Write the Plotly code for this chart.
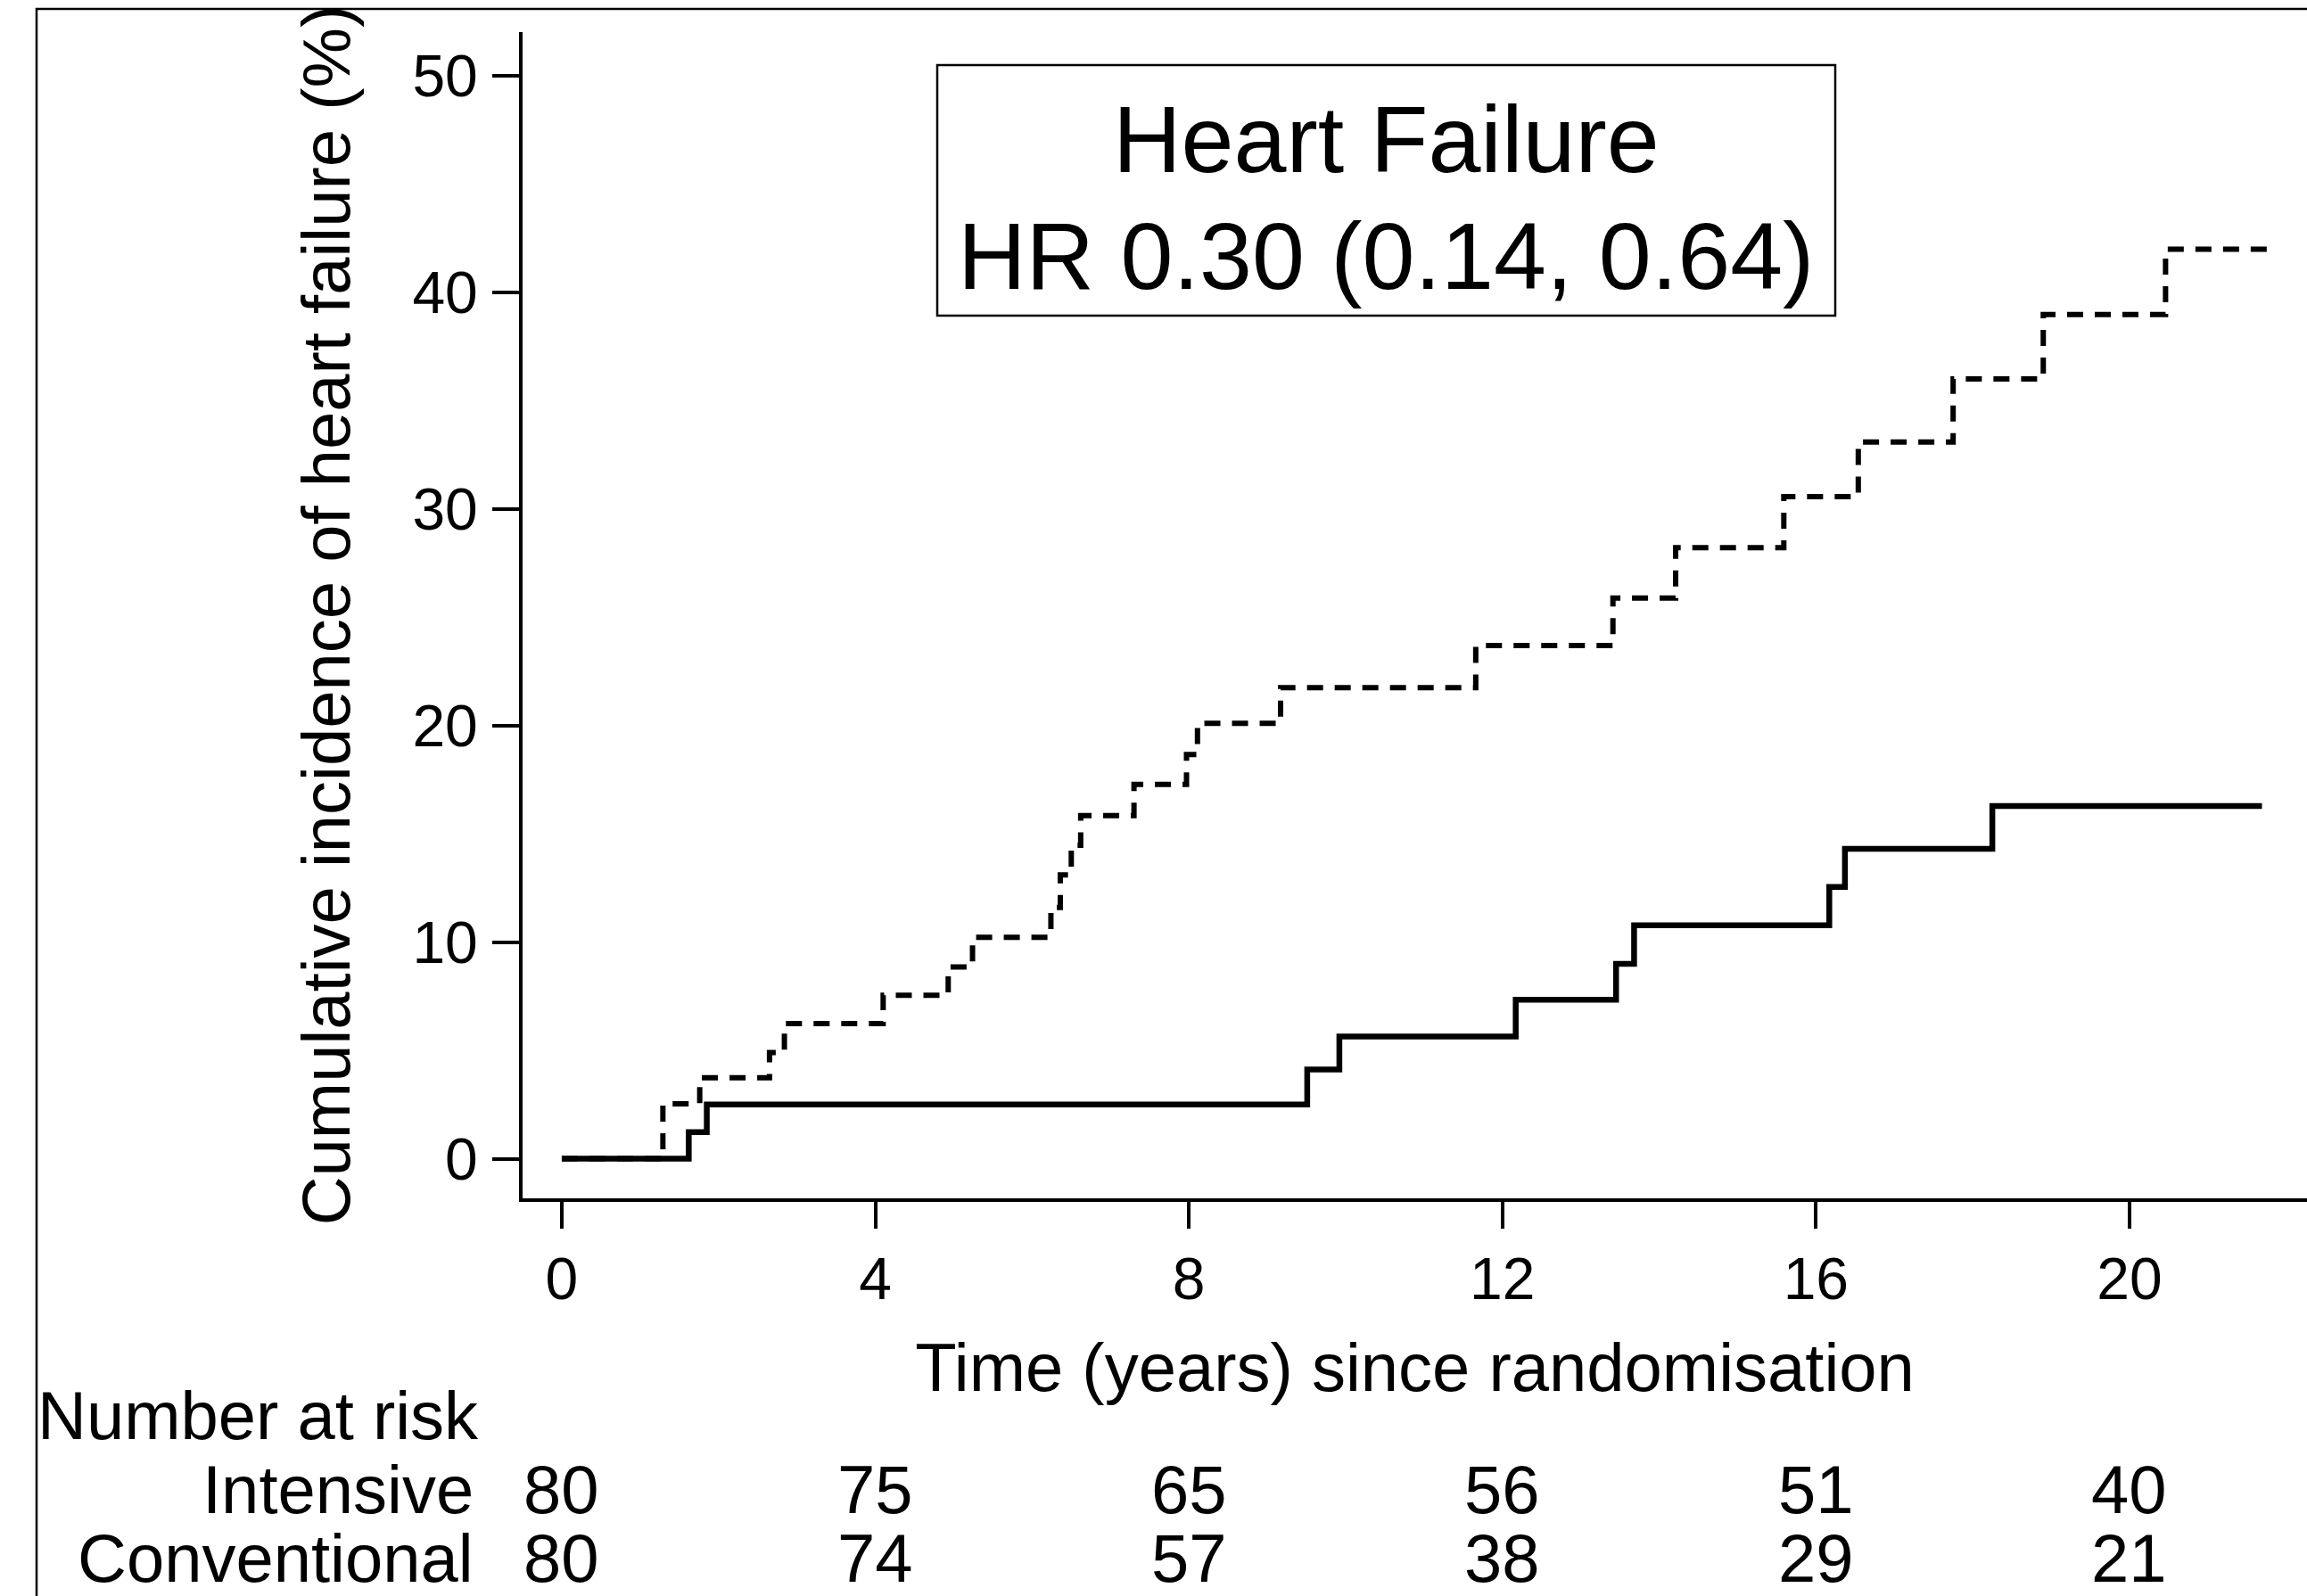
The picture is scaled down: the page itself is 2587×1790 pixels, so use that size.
import plotly.graph_objects as go

# ---- data ----
intensive_t = [0, 1.62, 1.85, 9.51, 9.92, 12.17, 13.45, 13.68, 16.17, 16.37, 18.25, 21.69]
intensive_v = [0, 1.23, 2.50, 4.12, 5.64, 7.34, 9.00, 10.78, 12.55, 14.30, 16.28, 16.28]

conventional_t = [0, 1.29, 1.76, 2.65, 2.84, 4.10, 4.93, 5.24, 6.24, 6.36, 6.50, 6.62,
                  7.30, 7.97, 8.11, 9.17, 11.66, 13.41, 14.21, 15.59, 16.54, 17.75,
                  18.90, 20.46, 21.79]
conventional_v = [0, 2.54, 3.74, 4.90, 6.24, 7.55, 8.85, 10.22, 11.60, 13.10, 14.47, 15.84,
                  17.28, 18.66, 20.10, 21.74, 23.69, 25.88, 28.20, 30.56, 33.08, 35.99,
                  38.97, 41.98, 41.98]

x_ticks = [0, 4, 8, 12, 16, 20]
y_ticks = [0, 10, 20, 30, 40, 50]
risk_groups = ["Intensive", "Conventional"]
risk_intensive = [80, 75, 65, 56, 51, 40]
risk_conventional = [80, 74, 57, 38, 29, 21]

title_lines = ["Heart Failure", "HR 0.30 (0.14, 0.64)"]

# ---- layout geometry (pixels) ----
W, H = 2587, 1790
L, R, T, B = 586, 0, 36, 446
plot_w = W - L - R
plot_h = H - T - B
FONT = "Liberation Sans, Arial, Helvetica, sans-serif"


def px_x(px):
    return (px - L) / plot_w


def px_y(py):
    return (H - B - py) / plot_h


fig = go.Figure()
fig.add_trace(go.Scatter(x=conventional_t, y=conventional_v, mode="lines",
                         line=dict(color="black", width=6, shape="hv", dash="18px,13px"),
                         name="Conventional", showlegend=False))
fig.add_trace(go.Scatter(x=intensive_t, y=intensive_v, mode="lines",
                         line=dict(color="black", width=6.5, shape="hv"),
                         name="Intensive", showlegend=False))

annotations = []
# title box text
annotations.append(dict(text=title_lines[0], x=px_x(1554), y=px_y(156), xref="paper", yref="paper",
                        xanchor="center", yanchor="middle", showarrow=False,
                        font=dict(family=FONT, size=106, color="black")))
annotations.append(dict(text=title_lines[1], x=px_x(1554), y=px_y(287), xref="paper", yref="paper",
                        xanchor="center", yanchor="middle", showarrow=False,
                        font=dict(family=FONT, size=106, color="black")))

# number at risk table
tab_font = dict(family=FONT, size=76, color="black")
annotations.append(dict(text="Number at risk", x=px_x(40), y=px_y(1587), xref="paper", yref="paper",
                        xanchor="left", yanchor="middle", showarrow=False, font=tab_font))
row_y = [1670, 1747]
for name, ry, vals in zip(risk_groups, row_y, [risk_intensive, risk_conventional]):
    annotations.append(dict(text=name, x=px_x(533), y=px_y(ry), xref="paper", yref="paper",
                            xanchor="right", yanchor="middle", showarrow=False, font=tab_font))
    for t, v in zip(x_ticks, vals):
        annotations.append(dict(text=str(v), x=t, y=px_y(ry), xref="x", yref="paper",
                                xanchor="center", yanchor="middle", showarrow=False, font=tab_font))

shapes = [
    # HR box
    dict(type="rect", xref="paper", yref="paper", x0=px_x(1051), x1=px_x(2058),
         y0=px_y(354), y1=px_y(73), line=dict(color="black", width=2.5)),
    # outer frame
    dict(type="rect", xref="paper", yref="paper", x0=px_x(41), x1=px_x(2620),
         y0=px_y(1830), y1=px_y(10), line=dict(color="black", width=2.5)),
]

x_lo = -0.5
x_hi = x_lo + plot_w / 87.9
y_hi = 52.0
y_lo = y_hi - plot_h / 24.3

fig.update_layout(
    width=W, height=H,
    margin=dict(l=L, r=R, t=T, b=B, pad=0),
    paper_bgcolor="white", plot_bgcolor="white",
    font=dict(family=FONT, color="black"),
    annotations=annotations, shapes=shapes,
    xaxis=dict(range=[x_lo, x_hi], tickvals=x_ticks, ticktext=[str(v) for v in x_ticks],
               showgrid=False, zeroline=False, showline=True, linecolor="black", linewidth=4,
               ticks="outside", ticklen=30, tickwidth=3.5, tickcolor="black",
               tickfont=dict(family=FONT, size=66, color="black"), ticklabelstandoff=0,
               title=dict(text="Time (years) since randomisation",
                          font=dict(family=FONT, size=76, color="black"), standoff=38)),
    yaxis=dict(range=[y_lo, y_hi], tickvals=y_ticks, ticktext=[str(v) for v in y_ticks],
               showgrid=False, zeroline=False, showline=True, linecolor="black", linewidth=4,
               ticks="outside", ticklen=30, tickwidth=3.5, tickcolor="black",
               tickfont=dict(family=FONT, size=66, color="black"), ticklabelstandoff=3,
               title=dict(text="Cumulative incidence of heart failure (%)",
                          font=dict(family=FONT, size=76, color="black"), standoff=46)),
)

fig.write_html("out.html")
